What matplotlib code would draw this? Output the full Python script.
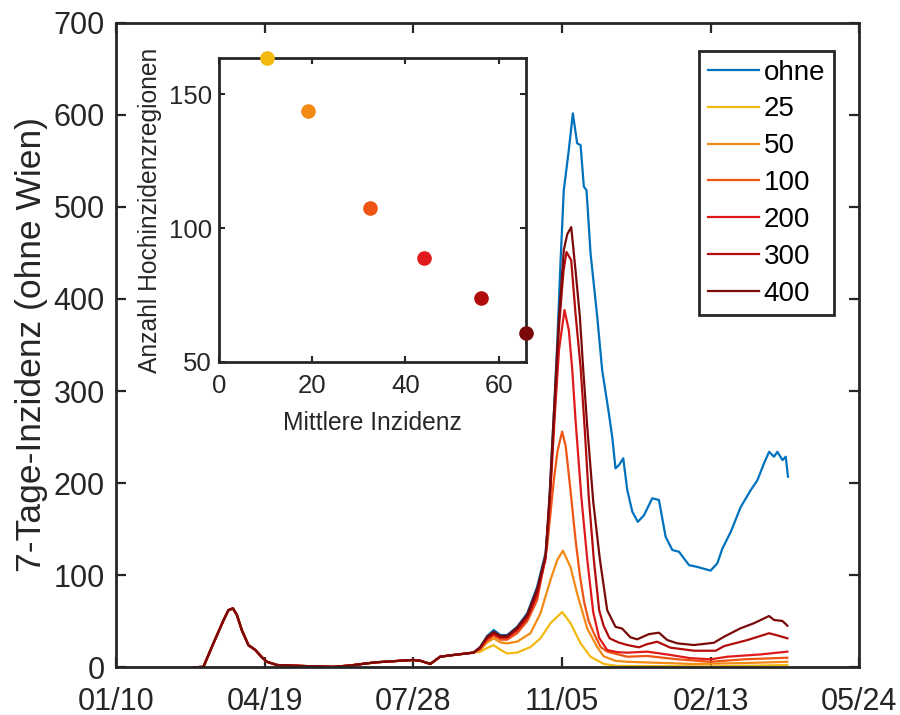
import numpy as np
import matplotlib
matplotlib.use('Agg')
import matplotlib.pyplot as plt
import matplotlib.dates as mdates

plt.rcParams['font.family'] = ['Liberation Sans', 'DejaVu Sans']

# ---------------- data ----------------
start_date = '2020-01-10'
tick_days = [0, 100, 200, 300, 400, 500]
tick_labels = ['01/10', '04/19', '07/28', '11/05', '02/13', '05/24']

series_labels = ['ohne', '25', '50', '100', '200', '300', '400']

# first wave / summer: identical for all series (days since start_date)
shared_days = [52, 58.8, 65.5, 72.3, 75.6, 78.6, 81.3, 84.6, 89.1, 93.6, 98.1, 101.5,
               108.2, 124, 146, 157.6, 168.8, 175.5, 200, 205, 211.4, 218, 225, 240.6]
shared_vals = [0, 0.5, 26, 51, 62, 64, 57, 40.5, 24, 19, 11, 6,
               2.5, 1.5, 0.5, 2, 4.3, 5.5, 8, 7, 3.6, 11.5, 13, 16]

ohne_days = [245, 249.6, 254.1, 258.6, 263.1, 269.8, 276.6, 283.3, 288.9, 291,
             293, 295, 297, 299, 301.2, 304.6, 307.3, 310.2, 312.5, 314.7,
             316.5, 319.2, 323.7, 327, 331.5, 333.8, 336, 338.5, 341.2, 343.9,
             347.3, 351, 355.1, 360.7, 365.2, 369.7, 374.2, 378.7, 385.4, 391,
             400, 404.5, 407.9, 413.5, 420.2, 427, 431.4, 435.9, 439.3, 442.6,
             444.9, 448.3, 450.5, 452]
ohne_vals = [22, 34, 40.5, 35, 35, 44, 58.6, 87.5, 124, 165,
             230, 290, 360, 440, 518, 562, 601.5, 569, 567, 522,
             518, 449.5, 380.7, 323, 276, 250, 216, 220, 227, 192.5,
             169, 158, 165, 183.5, 181.7, 141.8, 127.4, 125.5, 111, 109,
             105, 113, 129, 147, 174, 192.5, 203, 221.5, 234, 228.7,
             234, 225, 228.7, 207]

t25_days = [245, 249.6, 254.1, 258.6, 263.1, 269.8, 278.8, 285.5, 292.3, 300.1,
            305.7, 312.5, 319.2, 328.2, 337.2, 370, 400, 430, 451.6]
t25_vals = [17, 21, 24, 19, 15, 16, 22, 31.5, 48, 60,
            48, 26, 11.5, 3.6, 1.5, 1.2, 1, 1.8, 2.5]

t50_days = [245, 249.6, 254.1, 258.6, 263.1, 270, 278.8, 285.5, 292.3, 296.8,
            300.6, 305.7, 310.2, 317, 323.7, 328, 336, 344, 388.5, 420, 451.6]
t50_vals = [19, 27, 31.5, 27, 26, 28, 37, 58.6, 95, 116.5,
            126.6, 109, 80, 42, 22, 12, 7, 6, 3.6, 4.5, 6]

t100_days = [245, 249.6, 254.1, 258.6, 263.1, 269.8, 276.6, 283.3, 290, 294.5,
             297, 300.1, 302.5, 305.7, 309, 312, 315, 318, 321.4, 326,
             330.4, 343.9, 357.4, 377.6, 400, 422.4, 451.6]
t100_vals = [20, 29, 34.5, 30, 30, 37, 50, 73, 131, 203,
             235, 256, 240, 192.5, 140, 100, 70, 50, 37, 22,
             17, 11.5, 12.3, 8.7, 6, 8.7, 10.4]

t200_days = [245, 249.6, 254.1, 258.6, 263.1, 269.8, 276.6, 283.3, 289, 292,
             295, 298, 301.7, 304.6, 306.9, 309.1, 313, 317, 321, 325,
             330.4, 337, 343.9, 357.4, 373, 386, 400, 411.2, 433.7, 451.6]
t200_vals = [21, 31, 36, 32, 32, 40, 53, 78, 118, 185,
             270, 345, 388, 366, 323, 268.5, 185, 117, 60, 32,
             18.8, 16.5, 15.9, 17, 13.4, 10, 8.7, 11.5, 14, 17]

t300_days = [245, 249.6, 254.1, 258.6, 263.1, 269.8, 276.6, 283.3, 289, 292,
             295, 298, 301, 303, 306.2, 309.1, 312.5, 315.2, 318, 321.4,
             325, 328, 332, 338, 344, 351.7, 357, 364, 373, 389,
             403.4, 409, 424.7, 439.3, 444, 451.6]
t300_vals = [21.5, 32, 37, 33, 33, 42, 55, 82, 120, 190,
             280, 370, 430, 451, 442, 384, 326, 261, 185, 117,
             62, 45, 31.5, 27, 24.2, 21.7, 25, 27.8, 21.3, 18,
             18, 23, 29.6, 37, 35, 31.5]

t400_days = [245, 249.6, 254.1, 258.6, 263.1, 269.8, 276.6, 283.3, 289, 292,
             295, 298, 301.2, 303.5, 306.2, 309.1, 312, 314.3, 317, 321,
             325.5, 330.4, 336, 340.5, 346, 350.6, 358.4, 365.2, 370.8, 377.6,
             388.8, 402.2, 409, 420, 429, 439.3, 442.6, 448.3, 451.6]
t400_vals = [22, 33, 38.5, 34, 34, 43, 57, 85, 122, 195,
             290, 380, 453, 470, 478, 431, 381, 323, 261, 180,
             117, 62, 44, 42, 32.6, 30.4, 36, 37.6, 29.6, 26,
             24.2, 26.7, 33.2, 42.3, 47.8, 55.7, 51.4, 50.3, 45.2]

# inset: mean incidence vs number of high-incidence regions (thresholds 25..400)
inset_x = [10.4, 19.1, 32.4, 44.0, 56.2, 65.8]
inset_y = [163.5, 143.7, 107.6, 88.8, 73.8, 60.8]

# ---------------- style ----------------
colors = ['#0072BD', '#F2B90F', '#F28A14', '#EE5514', '#E01A1A', '#B00C0C', '#7A0A0A']
dark = '#262626'

fig = plt.figure(figsize=(9, 7.15), dpi=100)
ax = fig.add_axes([0.1289, 0.0667, 0.8259, 0.9016])

x0 = mdates.date2num(np.datetime64(start_date))
all_days = [ohne_days, t25_days, t50_days, t100_days, t200_days, t300_days, t400_days]
all_vals = [ohne_vals, t25_vals, t50_vals, t100_vals, t200_vals, t300_vals, t400_vals]
for d, v, c, lab in zip(all_days, all_vals, colors, series_labels):
    xd = x0 + np.array(shared_days + d)
    yv = np.array(shared_vals + v)
    ax.plot(xd, yv, color=c, lw=1.6, label=lab)

ax.set_xlim(x0 + tick_days[0], x0 + tick_days[-1])
ax.set_ylim(0, 700)
ax.set_xticks([x0 + t for t in tick_days])
ax.set_xticklabels(tick_labels)
ax.set_yticks(range(0, 701, 100))
ax.set_ylabel('7-Tage-Inzidenz (ohne Wien)', fontsize=25.5, color=dark, labelpad=4)
ax.tick_params(direction='in', length=7, width=1.6, labelsize=22, colors=dark,
               top=True, right=True)
ax.tick_params(axis='x', pad=14)
ax.tick_params(axis='y', pad=8)
for s in ax.spines.values():
    s.set_linewidth(2.0)
    s.set_color(dark)

leg = ax.legend(loc='upper right', bbox_to_anchor=(834 / 900, 1 - 50.7 / 715),
                bbox_transform=fig.transFigure, borderaxespad=0, fontsize=20,
                handlelength=1.87, handletextpad=0.15, labelspacing=0.39,
                borderpad=0.32, fancybox=False, framealpha=1, edgecolor=dark)
leg.get_frame().set_linewidth(2.0)

# ---------------- inset ----------------
axi = fig.add_axes([0.2433, 0.4941, 0.3407, 0.4244])
for xi, yi, c in zip(inset_x, inset_y, colors[1:]):
    axi.plot(xi, yi, 'o', color=c, markersize=9.5, clip_on=False, zorder=5)
axi.set_xlim(0, 65.8)
axi.set_ylim(50, 163.5)
axi.set_xticks([0, 20, 40, 60])
axi.set_yticks([50, 100, 150])
axi.set_xlabel('Mittlere Inzidenz', fontsize=17.7, color=dark, labelpad=9)
axi.set_ylabel('Anzahl Hochinzidenzregionen', fontsize=17.7, color=dark, labelpad=5)
axi.tick_params(direction='in', length=4, width=1.5, labelsize=18.5, colors=dark,
                top=True, right=True, pad=5)
axi.tick_params(axis='x', pad=9)
for s in axi.spines.values():
    s.set_linewidth(2.0)
    s.set_color(dark)

fig.savefig('out.png', dpi=100)
